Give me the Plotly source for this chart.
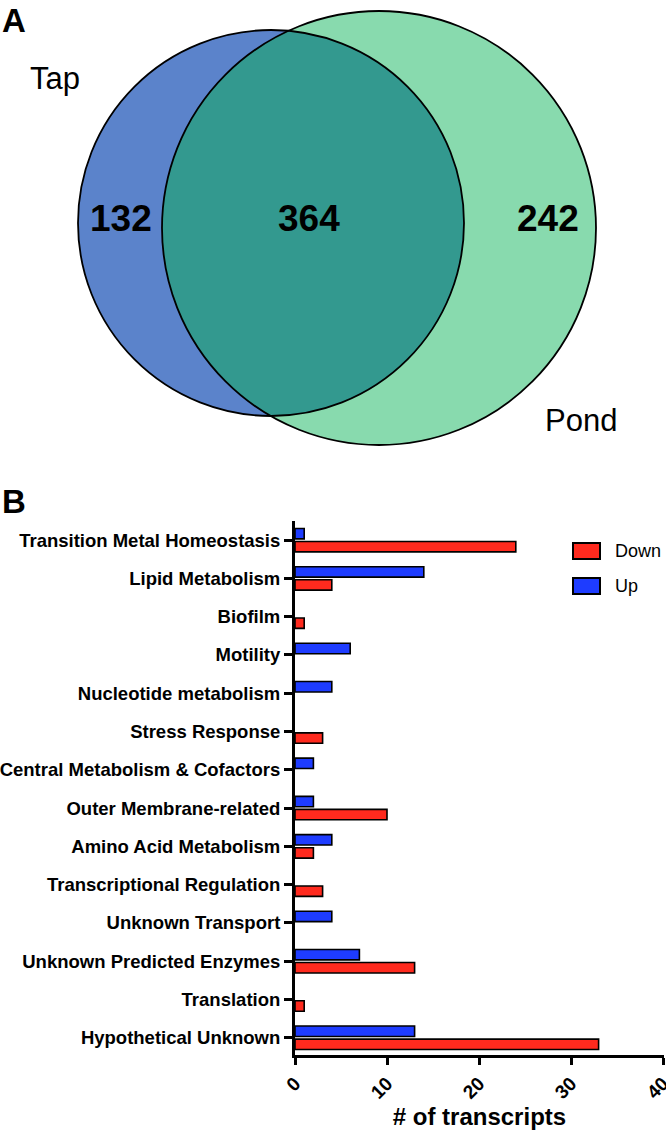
import numpy as np
import plotly.graph_objects as go

# ---------------- data ----------------
categories = [
    "Transition Metal Homeostasis", "Lipid Metabolism", "Biofilm", "Motility",
    "Nucleotide metabolism", "Stress Response", "Central Metabolism & Cofactors",
    "Outer Membrane-related", "Amino Acid Metabolism", "Transcriptional Regulation",
    "Unknown Transport", "Unknown Predicted Enzymes", "Translation", "Hypothetical Unknown",
]
up_values = [1, 14, 0, 6, 4, 0, 2, 2, 4, 0, 4, 7, 0, 13]
down_values = [24, 4, 1, 0, 0, 3, 0, 10, 2, 3, 0, 13, 1, 33]
x_ticks = [0, 10, 20, 30, 40]

venn_labels = ["Tap", "Pond"]
venn_counts = [132, 364, 242]  # Tap only, shared, Pond only

W, H = 666, 1130
FONT = "Liberation Sans, Arial, Helvetica, sans-serif"

fig = go.Figure()

def outline_widths(vals):
    return [1.6 if v > 0 else 0 for v in vals]

# ---------------- bar chart (panel B) ----------------
fig.add_trace(go.Bar(
    y=categories, x=up_values, orientation="h", name="Up",
    marker=dict(color="#1E3CFF", line=dict(color="black", width=outline_widths(up_values))),
    xaxis="x", yaxis="y", showlegend=False,
))
fig.add_trace(go.Bar(
    y=categories, x=down_values, orientation="h", name="Down",
    marker=dict(color="#FF2A1E", line=dict(color="black", width=outline_widths(down_values))),
    xaxis="x", yaxis="y", showlegend=False,
))

def px_x(p):
    return p / W

def px_y(p):
    return 1 - p / H

x_max = 40.1
ax_left = 295
ax_right = ax_left + (663 - 295) / 40 * x_max
ax_top, ax_bottom = 521, 1055

fig.update_layout(
    xaxis=dict(
        domain=[px_x(ax_left), min(1, px_x(ax_right))], range=[0, x_max],
        tickvals=x_ticks, ticktext=[str(v) for v in x_ticks],
        tickangle=-45, ticks="outside", ticklen=7, tickwidth=2.5, tickcolor="black",
        ticklabeloverflow="allow",
        showline=True, linewidth=3, linecolor="black", showgrid=False, zeroline=False,
        tickfont=dict(family=FONT, size=19, color="black", weight="bold"),
        title=dict(text="# of transcripts", standoff=12,
                   font=dict(family=FONT, size=24, color="black", weight="bold")),
        anchor="y", automargin=False, fixedrange=True,
    ),
    yaxis=dict(
        domain=[px_y(ax_bottom), px_y(ax_top)],
        categoryorder="array", categoryarray=categories,
        range=[13.45, -0.5],
        ticks="outside", ticklen=8, tickwidth=2.5, tickcolor="black",
        ticklabeloverflow="allow",
        showline=True, linewidth=3, linecolor="black", showgrid=False, zeroline=False,
        tickfont=dict(family=FONT, size=18.5, color="black", weight="bold"),
        anchor="x", automargin=False, fixedrange=True,
    ),
    barmode="group", bargap=0.32, bargroupgap=0.2,
)

# ---------------- Venn (panel A) ----------------
fig.update_layout(
    xaxis2=dict(domain=[0, 1], range=[0, W], visible=False, anchor="y2", fixedrange=True),
    yaxis2=dict(domain=[px_y(470), 1], range=[470, 0], visible=False, anchor="x2", fixedrange=True),
)

c1, r1 = np.array([271.0, 223.0]), 193.0   # Tap
c2, r2 = np.array([379.0, 228.0]), 217.0   # Pond

def arc_points(c, r, toward, half, n=120):
    base = np.arctan2(toward[1] - c[1], toward[0] - c[0])
    t = np.linspace(base - half, base + half, n)
    return np.column_stack([c[0] + r * np.cos(t), c[1] + r * np.sin(t)])

d = np.linalg.norm(c2 - c1)
h1 = np.arccos((d ** 2 + r1 ** 2 - r2 ** 2) / (2 * d * r1))
h2 = np.arccos((d ** 2 + r2 ** 2 - r1 ** 2) / (2 * d * r2))
pts = np.vstack([arc_points(c1, r1, c2, h1), arc_points(c2, r2, c1, h2)])
centroid = pts.mean(axis=0)
order = np.argsort(np.arctan2(pts[:, 1] - centroid[1], pts[:, 0] - centroid[0]))
pts = pts[order]
lens_path = "M " + " L ".join(f"{x:.2f},{y:.2f}" for x, y in pts) + " Z"

shapes = []
shapes.append(dict(type="circle", xref="x2", yref="y2",
                   x0=c1[0] - r1, x1=c1[0] + r1, y0=c1[1] - r1, y1=c1[1] + r1,
                   fillcolor="#5B83CB", line=dict(width=0), layer="below"))
shapes.append(dict(type="circle", xref="x2", yref="y2",
                   x0=c2[0] - r2, x1=c2[0] + r2, y0=c2[1] - r2, y1=c2[1] + r2,
                   fillcolor="#88DAAE", line=dict(width=0), layer="below"))
shapes.append(dict(type="path", xref="x2", yref="y2", path=lens_path,
                   fillcolor="#33998F", line=dict(width=0), layer="below"))
shapes.append(dict(type="circle", xref="x2", yref="y2",
                   x0=c1[0] - r1, x1=c1[0] + r1, y0=c1[1] - r1, y1=c1[1] + r1,
                   fillcolor="rgba(0,0,0,0)", line=dict(color="black", width=1.8)))
shapes.append(dict(type="circle", xref="x2", yref="y2",
                   x0=c2[0] - r2, x1=c2[0] + r2, y0=c2[1] - r2, y1=c2[1] + r2,
                   fillcolor="rgba(0,0,0,0)", line=dict(color="black", width=1.8)))

# manual legend
legend_items = [("Down", "#FF2A1E", 551), ("Up", "#1E3CFF", 586)]
annotations = []
for name, col, yc in legend_items:
    shapes.append(dict(type="rect", xref="paper", yref="paper",
                       x0=px_x(573), x1=px_x(600), y0=px_y(yc - 8), y1=px_y(yc + 8),
                       fillcolor=col, line=dict(color="black", width=2)))
    annotations.append(dict(xref="paper", yref="paper", x=px_x(613), y=px_y(yc),
                            text=name, showarrow=False, xanchor="left", yanchor="middle",
                            font=dict(family=FONT, size=18, color="black")))

count_pos = [(121, 218), (309, 218), (548, 218)]
for (x, y), v in zip(count_pos, venn_counts):
    annotations.append(dict(xref="x2", yref="y2", x=x, y=y, text=str(v), showarrow=False,
                            xanchor="center", yanchor="middle",
                            font=dict(family=FONT, size=37, color="black", weight="bold")))

label_pos = [(55, 78), (581, 420)]
for (x, y), t in zip(label_pos, venn_labels):
    annotations.append(dict(xref="x2", yref="y2", x=x, y=y, text=t, showarrow=False,
                            xanchor="center", yanchor="middle",
                            font=dict(family=FONT, size=31, color="black")))

annotations.append(dict(xref="paper", yref="paper", x=px_x(0), y=px_y(0), text="A",
                        showarrow=False, xanchor="left", yanchor="top",
                        font=dict(family=FONT, size=33, color="black", weight="bold")))
annotations.append(dict(xref="paper", yref="paper", x=px_x(0), y=px_y(481), text="B",
                        showarrow=False, xanchor="left", yanchor="top",
                        font=dict(family=FONT, size=33, color="black", weight="bold")))

fig.update_layout(
    width=W, height=H,
    margin=dict(l=0, r=0, t=0, b=0),
    paper_bgcolor="white", plot_bgcolor="rgba(0,0,0,0)",
    shapes=shapes, annotations=annotations,
    showlegend=False,
)

fig.write_html(
    "out.html",
    config={"displayModeBar": False},
    post_script="document.body.style.margin='0px';document.body.style.overflow='hidden';",
)
